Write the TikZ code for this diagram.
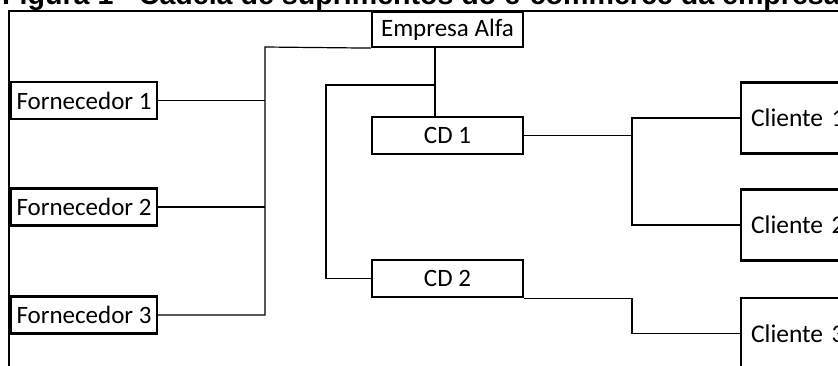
\documentclass[tikz,border=0pt]{standalone}
\usepackage{fontspec}
\setmainfont{Carlito}
\newfontfamily\titlefont{Liberation Sans}
\usepackage{tikz}
\usetikzlibrary{calc}
\usetikzlibrary{positioning}
\tikzstyle{caixa} = [rectangle, draw=black, line width=2.2pt, inner sep=0pt, font=\fontsize{25}{30}\selectfont]
\tikzstyle{forn} = [caixa, minimum width=146pt, minimum height=37pt]
\tikzstyle{cd} = [caixa, minimum width=151pt, minimum height=37pt]
\tikzstyle{cli} = [caixa, anchor=west, minimum height=71pt, text width=140pt, align=left, inner xsep=10pt, font=\fontsize{25.5}{30}\selectfont]
\tikzstyle{lig} = [-, draw=black, line width=1.2pt]

\begin{document}
\begin{tikzpicture}[x=1pt, y=-1pt]
\useasboundingbox (0,0) rectangle (838,365);
\clip (0,0) rectangle (838,365);
% titulo (cortado no topo)
\node [anchor=base west, inner sep=0, font=\titlefont\bfseries\fontsize{28.6}{32}\selectfont] (T) at (2,4) {Figura 1 - Cadeia de suprimentos do e-commerce da empresa};
\draw [line width=1.5pt] (9,380) -- (9,11) -- (860,11);
% caixas
\node [forn] (F1) at (84, 100.5) {Fornecedor 1};
\node [forn] (F2) at (84, 207) {Fornecedor 2};
\node [forn] (F3) at (84, 315) {Fornecedor 3};
\node [cd, minimum height=35pt] (EA) at (447.5, 29.5) {Empresa Alfa};
\node [cd] (CD1) at (447.5, 135.5) {CD 1};
\node [cd] (CD2) at (447.5, 278.5) {CD 2};
\node [cli] (C1) at (740, 118) {Cliente 1};
\node [cli] (C2) at (740, 225) {Cliente 2};
\node [cli] (C3) at (740, 333.5) {Cliente 3};
% pontos de juncao
\coordinate (jF) at (265, 47);
\coordinate (jE) at (435, 85);
\coordinate (jD) at (326, 85);
\coordinate (jC) at (632, 134);
% fornecedores -> empresa
\draw [lig] (EA.south west) -- (jF) -- (jF |- F3.east) -- (F3.east);
\draw [lig] (F1.east) -- (F1.east -| jF);
\draw [lig] (F2.east) -- (F2.east -| jF);
% empresa -> CDs
\draw [lig] (jE |- EA.south) -- (jE |- CD1.north);
\draw [lig] (jE) -- (jD) |- (CD2.west);
% CDs -> clientes
\draw [lig] (CD1.east) -- (CD1.east -| jC);
\draw [lig] (C1.west) -| (C2.west -| jC) -- (C2.west);
\draw [lig] (CD2.south east) -| (C3.west -| jC) -- (C3.west);
\end{tikzpicture}
\end{document}
